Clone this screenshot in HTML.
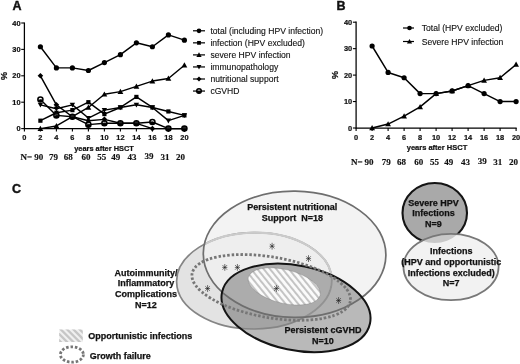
<!DOCTYPE html>
<html><head><meta charset="utf-8"><title>Figure</title>
<style>html,body{margin:0;padding:0;background:#fff}svg{display:block;will-change:transform;opacity:0.999}</style></head>
<body>
<svg width="520" height="364" viewBox="0 0 520 364">
<style>
text{font-family:"Liberation Sans", sans-serif;fill:#111}
.tk{font-size:7.4px;font-weight:bold;stroke:#111;stroke-width:0.22px}
.lg{font-size:8.6px;stroke:#111;stroke-width:0.12px}
.vl{font-size:9px;font-weight:bold;stroke:#111;stroke-width:0.25px}
.n{font-family:"Liberation Serif", serif;font-size:9px;font-weight:bold;stroke:#111;stroke-width:0.15px}
.pl{font-size:12.5px;font-weight:bold;stroke:#111;stroke-width:0.4px}
</style>
<rect width="520" height="364" fill="#fff"/>
<text x="12.6" y="9.7" class="pl">A</text>
<text x="336.5" y="9.6" class="pl">B</text>
<text x="11.9" y="192.6" class="pl">C</text>
<path d="M24.4 22.40 V128.6 H185.00" fill="none" stroke="#000" stroke-width="1.25"/>
<line x1="21.20" x2="24.4" y1="128.60" y2="128.60" stroke="#000" stroke-width="1.1"/>
<text x="20.50" y="131.20" text-anchor="end" class="tk">0</text>
<line x1="21.20" x2="24.4" y1="102.20" y2="102.20" stroke="#000" stroke-width="1.1"/>
<text x="20.50" y="104.80" text-anchor="end" class="tk">10</text>
<line x1="21.20" x2="24.4" y1="75.80" y2="75.80" stroke="#000" stroke-width="1.1"/>
<text x="20.50" y="78.40" text-anchor="end" class="tk">20</text>
<line x1="21.20" x2="24.4" y1="49.40" y2="49.40" stroke="#000" stroke-width="1.1"/>
<text x="20.50" y="52.00" text-anchor="end" class="tk">30</text>
<line x1="21.20" x2="24.4" y1="23.00" y2="23.00" stroke="#000" stroke-width="1.1"/>
<text x="20.50" y="25.60" text-anchor="end" class="tk">40</text>
<line x1="24.40" x2="24.40" y1="128.6" y2="131.60" stroke="#000" stroke-width="1.1"/>
<text x="24.40" y="140.10" text-anchor="middle" class="tk">0</text>
<line x1="40.40" x2="40.40" y1="128.6" y2="131.60" stroke="#000" stroke-width="1.1"/>
<text x="40.40" y="140.10" text-anchor="middle" class="tk">2</text>
<line x1="56.40" x2="56.40" y1="128.6" y2="131.60" stroke="#000" stroke-width="1.1"/>
<text x="56.40" y="140.10" text-anchor="middle" class="tk">4</text>
<line x1="72.40" x2="72.40" y1="128.6" y2="131.60" stroke="#000" stroke-width="1.1"/>
<text x="72.40" y="140.10" text-anchor="middle" class="tk">6</text>
<line x1="88.40" x2="88.40" y1="128.6" y2="131.60" stroke="#000" stroke-width="1.1"/>
<text x="88.40" y="140.10" text-anchor="middle" class="tk">8</text>
<line x1="104.40" x2="104.40" y1="128.6" y2="131.60" stroke="#000" stroke-width="1.1"/>
<text x="104.40" y="140.10" text-anchor="middle" class="tk">10</text>
<line x1="120.40" x2="120.40" y1="128.6" y2="131.60" stroke="#000" stroke-width="1.1"/>
<text x="120.40" y="140.10" text-anchor="middle" class="tk">12</text>
<line x1="136.40" x2="136.40" y1="128.6" y2="131.60" stroke="#000" stroke-width="1.1"/>
<text x="136.40" y="140.10" text-anchor="middle" class="tk">14</text>
<line x1="152.40" x2="152.40" y1="128.6" y2="131.60" stroke="#000" stroke-width="1.1"/>
<text x="152.40" y="140.10" text-anchor="middle" class="tk">16</text>
<line x1="168.40" x2="168.40" y1="128.6" y2="131.60" stroke="#000" stroke-width="1.1"/>
<text x="168.40" y="140.10" text-anchor="middle" class="tk">18</text>
<line x1="184.40" x2="184.40" y1="128.6" y2="131.60" stroke="#000" stroke-width="1.1"/>
<text x="184.40" y="140.10" text-anchor="middle" class="tk">20</text>
<polyline points="40.40,46.76 56.40,67.88 72.40,67.88 88.40,70.52 104.40,62.60 120.40,54.68 136.40,42.80 152.40,46.76 168.40,34.88 184.40,40.16" fill="none" stroke="#000" stroke-width="1.45" stroke-linejoin="round"/>
<circle cx="40.40" cy="46.76" r="2.6" fill="#000"/>
<circle cx="56.40" cy="67.88" r="2.6" fill="#000"/>
<circle cx="72.40" cy="67.88" r="2.6" fill="#000"/>
<circle cx="88.40" cy="70.52" r="2.6" fill="#000"/>
<circle cx="104.40" cy="62.60" r="2.6" fill="#000"/>
<circle cx="120.40" cy="54.68" r="2.6" fill="#000"/>
<circle cx="136.40" cy="42.80" r="2.6" fill="#000"/>
<circle cx="152.40" cy="46.76" r="2.6" fill="#000"/>
<circle cx="168.40" cy="34.88" r="2.6" fill="#000"/>
<circle cx="184.40" cy="40.16" r="2.6" fill="#000"/>
<polyline points="40.40,120.68 56.40,112.76 72.40,110.12 88.40,102.20 104.40,114.08 120.40,107.48 136.40,96.92 152.40,107.48 168.40,111.44 184.40,115.40" fill="none" stroke="#000" stroke-width="1.45" stroke-linejoin="round"/>
<rect x="38.30" y="118.58" width="4.2" height="4.2" fill="#000"/>
<rect x="54.30" y="110.66" width="4.2" height="4.2" fill="#000"/>
<rect x="70.30" y="108.02" width="4.2" height="4.2" fill="#000"/>
<rect x="86.30" y="100.10" width="4.2" height="4.2" fill="#000"/>
<rect x="102.30" y="111.98" width="4.2" height="4.2" fill="#000"/>
<rect x="118.30" y="105.38" width="4.2" height="4.2" fill="#000"/>
<rect x="134.30" y="94.82" width="4.2" height="4.2" fill="#000"/>
<rect x="150.30" y="105.38" width="4.2" height="4.2" fill="#000"/>
<rect x="166.30" y="109.34" width="4.2" height="4.2" fill="#000"/>
<rect x="182.30" y="113.30" width="4.2" height="4.2" fill="#000"/>
<polyline points="40.40,128.60 56.40,125.96 72.40,116.72 88.40,107.48 104.40,94.28 120.40,91.64 136.40,86.36 152.40,81.08 168.40,78.44 184.40,65.24" fill="none" stroke="#000" stroke-width="1.45" stroke-linejoin="round"/>
<path d="M40.40 125.70 L43.30 130.92 L37.50 130.92Z" fill="#000"/>
<path d="M56.40 123.06 L59.30 128.28 L53.50 128.28Z" fill="#000"/>
<path d="M72.40 113.82 L75.30 119.04 L69.50 119.04Z" fill="#000"/>
<path d="M88.40 104.58 L91.30 109.80 L85.50 109.80Z" fill="#000"/>
<path d="M104.40 91.38 L107.30 96.60 L101.50 96.60Z" fill="#000"/>
<path d="M120.40 88.74 L123.30 93.96 L117.50 93.96Z" fill="#000"/>
<path d="M136.40 83.46 L139.30 88.68 L133.50 88.68Z" fill="#000"/>
<path d="M152.40 78.18 L155.30 83.40 L149.50 83.40Z" fill="#000"/>
<path d="M168.40 75.54 L171.30 80.76 L165.50 80.76Z" fill="#000"/>
<path d="M184.40 62.34 L187.30 67.56 L181.50 67.56Z" fill="#000"/>
<polyline points="40.40,104.84 56.40,108.80 72.40,104.84 88.40,118.04 104.40,110.12 120.40,107.48 136.40,104.84 152.40,107.48 168.40,120.68 184.40,115.40" fill="none" stroke="#000" stroke-width="1.45" stroke-linejoin="round"/>
<path d="M40.40 107.54 L43.10 102.68 L37.70 102.68Z" fill="#000"/>
<path d="M56.40 111.50 L59.10 106.64 L53.70 106.64Z" fill="#000"/>
<path d="M72.40 107.54 L75.10 102.68 L69.70 102.68Z" fill="#000"/>
<path d="M88.40 120.74 L91.10 115.88 L85.70 115.88Z" fill="#000"/>
<path d="M104.40 112.82 L107.10 107.96 L101.70 107.96Z" fill="#000"/>
<path d="M120.40 110.18 L123.10 105.32 L117.70 105.32Z" fill="#000"/>
<path d="M136.40 107.54 L139.10 102.68 L133.70 102.68Z" fill="#000"/>
<path d="M152.40 110.18 L155.10 105.32 L149.70 105.32Z" fill="#000"/>
<path d="M168.40 123.38 L171.10 118.52 L165.70 118.52Z" fill="#000"/>
<path d="M184.40 118.10 L187.10 113.24 L181.70 113.24Z" fill="#000"/>
<polyline points="40.40,75.80 56.40,104.84 72.40,116.72 88.40,120.68 104.40,119.36 120.40,123.32 136.40,123.32 152.40,128.60 168.40,128.60 184.40,128.60" fill="none" stroke="#000" stroke-width="1.45" stroke-linejoin="round"/>
<path d="M40.40 73.00 L43.20 75.80 L40.40 78.60 L37.60 75.80Z" fill="#000"/>
<path d="M56.40 102.04 L59.20 104.84 L56.40 107.64 L53.60 104.84Z" fill="#000"/>
<path d="M72.40 113.92 L75.20 116.72 L72.40 119.52 L69.60 116.72Z" fill="#000"/>
<path d="M88.40 117.88 L91.20 120.68 L88.40 123.48 L85.60 120.68Z" fill="#000"/>
<path d="M104.40 116.56 L107.20 119.36 L104.40 122.16 L101.60 119.36Z" fill="#000"/>
<path d="M120.40 120.52 L123.20 123.32 L120.40 126.12 L117.60 123.32Z" fill="#000"/>
<path d="M136.40 120.52 L139.20 123.32 L136.40 126.12 L133.60 123.32Z" fill="#000"/>
<path d="M152.40 125.80 L155.20 128.60 L152.40 131.40 L149.60 128.60Z" fill="#000"/>
<path d="M168.40 125.80 L171.20 128.60 L168.40 131.40 L165.60 128.60Z" fill="#000"/>
<path d="M184.40 125.80 L187.20 128.60 L184.40 131.40 L181.60 128.60Z" fill="#000"/>
<polyline points="40.40,99.56 56.40,115.40 72.40,116.72 88.40,124.64 104.40,123.32 120.40,123.32 136.40,123.32 152.40,122.00 168.40,128.60 184.40,128.60" fill="none" stroke="#000" stroke-width="1.45" stroke-linejoin="round"/>
<circle cx="40.40" cy="99.56" r="2.55" fill="rgba(255,255,255,0.15)" stroke="#000" stroke-width="1.5"/><path d="M37.85 99.56 A2.55 2.55 0 0 0 42.95 99.56Z" fill="#000"/>
<circle cx="56.40" cy="115.40" r="2.55" fill="rgba(255,255,255,0.15)" stroke="#000" stroke-width="1.5"/><path d="M53.85 115.40 A2.55 2.55 0 0 0 58.95 115.40Z" fill="#000"/>
<circle cx="72.40" cy="116.72" r="2.55" fill="rgba(255,255,255,0.15)" stroke="#000" stroke-width="1.5"/><path d="M69.85 116.72 A2.55 2.55 0 0 0 74.95 116.72Z" fill="#000"/>
<circle cx="88.40" cy="124.64" r="2.55" fill="rgba(255,255,255,0.15)" stroke="#000" stroke-width="1.5"/><path d="M85.85 124.64 A2.55 2.55 0 0 0 90.95 124.64Z" fill="#000"/>
<circle cx="104.40" cy="123.32" r="2.55" fill="rgba(255,255,255,0.15)" stroke="#000" stroke-width="1.5"/><path d="M101.85 123.32 A2.55 2.55 0 0 0 106.95 123.32Z" fill="#000"/>
<circle cx="120.40" cy="123.32" r="2.55" fill="rgba(255,255,255,0.15)" stroke="#000" stroke-width="1.5"/><path d="M117.85 123.32 A2.55 2.55 0 0 0 122.95 123.32Z" fill="#000"/>
<circle cx="136.40" cy="123.32" r="2.55" fill="rgba(255,255,255,0.15)" stroke="#000" stroke-width="1.5"/><path d="M133.85 123.32 A2.55 2.55 0 0 0 138.95 123.32Z" fill="#000"/>
<circle cx="152.40" cy="122.00" r="2.55" fill="rgba(255,255,255,0.15)" stroke="#000" stroke-width="1.5"/><path d="M149.85 122.00 A2.55 2.55 0 0 0 154.95 122.00Z" fill="#000"/>
<circle cx="168.40" cy="128.60" r="2.55" fill="rgba(255,255,255,0.15)" stroke="#000" stroke-width="1.5"/><path d="M165.85 128.60 A2.55 2.55 0 0 0 170.95 128.60Z" fill="#000"/>
<circle cx="184.40" cy="128.60" r="2.55" fill="rgba(255,255,255,0.15)" stroke="#000" stroke-width="1.5"/><path d="M181.85 128.60 A2.55 2.55 0 0 0 186.95 128.60Z" fill="#000"/>
<text transform="translate(6.8,76) rotate(-90)" text-anchor="middle" class="tk" style="font-size:9px">%</text>
<text x="104" y="151" text-anchor="middle" class="tk" style="font-size:7.4px">years after HSCT</text>
<line x1="193" x2="205" y1="30.8" y2="30.8" stroke="#000" stroke-width="1.2"/>
<circle cx="199.00" cy="30.80" r="2.3400000000000003" fill="#000"/>
<text x="210.4" y="33.8" class="lg">total (including HPV infection)</text>
<line x1="193" x2="205" y1="42.85" y2="42.85" stroke="#000" stroke-width="1.2"/>
<rect x="197.11" y="40.96" width="3.7800000000000002" height="3.7800000000000002" fill="#000"/>
<text x="210.4" y="45.85" class="lg">infection (HPV excluded)</text>
<line x1="193" x2="205" y1="54.900000000000006" y2="54.900000000000006" stroke="#000" stroke-width="1.2"/>
<path d="M199.00 52.29 L201.61 56.99 L196.39 56.99Z" fill="#000"/>
<text x="210.4" y="57.900000000000006" class="lg">severe HPV infection</text>
<line x1="193" x2="205" y1="66.95" y2="66.95" stroke="#000" stroke-width="1.2"/>
<path d="M199.00 69.38 L201.43 65.01 L196.57 65.01Z" fill="#000"/>
<text x="210.4" y="69.95" class="lg">immunopathology</text>
<line x1="193" x2="205" y1="79.0" y2="79.0" stroke="#000" stroke-width="1.2"/>
<path d="M199.00 76.48 L201.52 79.00 L199.00 81.52 L196.48 79.00Z" fill="#000"/>
<text x="210.4" y="82.0" class="lg">nutritional support</text>
<line x1="193" x2="205" y1="91.05" y2="91.05" stroke="#000" stroke-width="1.2"/>
<circle cx="199.00" cy="91.05" r="2.295" fill="rgba(255,255,255,0.15)" stroke="#000" stroke-width="1.5"/><path d="M196.71 91.05 A2.295 2.295 0 0 0 201.29 91.05Z" fill="#000"/>
<text x="210.4" y="94.05" class="lg">cGVHD</text>
<text x="20.5" y="160.3" class="n">N=</text>
<text x="38.75" y="160.3" text-anchor="middle" class="n">90</text>
<text x="53.5" y="160.3" text-anchor="middle" class="n">79</text>
<text x="68.3" y="160.3" text-anchor="middle" class="n">68</text>
<text x="86" y="160.3" text-anchor="middle" class="n">60</text>
<text x="101.8" y="160.3" text-anchor="middle" class="n">55</text>
<text x="115.8" y="160.3" text-anchor="middle" class="n">49</text>
<text x="132" y="160.3" text-anchor="middle" class="n">43</text>
<text x="148.9" y="159.0" text-anchor="middle" class="n">39</text>
<text x="165" y="160.3" text-anchor="middle" class="n">31</text>
<text x="180.6" y="160.3" text-anchor="middle" class="n">20</text>
<path d="M356.1 21.60 V128.0 H516.70" fill="none" stroke="#000" stroke-width="1.25"/>
<line x1="352.90" x2="356.1" y1="128.00" y2="128.00" stroke="#000" stroke-width="1.1"/>
<text x="352.20" y="130.60" text-anchor="end" class="tk">0</text>
<line x1="352.90" x2="356.1" y1="101.55" y2="101.55" stroke="#000" stroke-width="1.1"/>
<text x="352.20" y="104.15" text-anchor="end" class="tk">10</text>
<line x1="352.90" x2="356.1" y1="75.10" y2="75.10" stroke="#000" stroke-width="1.1"/>
<text x="352.20" y="77.70" text-anchor="end" class="tk">20</text>
<line x1="352.90" x2="356.1" y1="48.65" y2="48.65" stroke="#000" stroke-width="1.1"/>
<text x="352.20" y="51.25" text-anchor="end" class="tk">30</text>
<line x1="352.90" x2="356.1" y1="22.20" y2="22.20" stroke="#000" stroke-width="1.1"/>
<text x="352.20" y="24.80" text-anchor="end" class="tk">40</text>
<line x1="356.10" x2="356.10" y1="128.0" y2="131.00" stroke="#000" stroke-width="1.1"/>
<text x="356.10" y="139.50" text-anchor="middle" class="tk">0</text>
<line x1="372.10" x2="372.10" y1="128.0" y2="131.00" stroke="#000" stroke-width="1.1"/>
<text x="372.10" y="139.50" text-anchor="middle" class="tk">2</text>
<line x1="388.10" x2="388.10" y1="128.0" y2="131.00" stroke="#000" stroke-width="1.1"/>
<text x="388.10" y="139.50" text-anchor="middle" class="tk">4</text>
<line x1="404.10" x2="404.10" y1="128.0" y2="131.00" stroke="#000" stroke-width="1.1"/>
<text x="404.10" y="139.50" text-anchor="middle" class="tk">6</text>
<line x1="420.10" x2="420.10" y1="128.0" y2="131.00" stroke="#000" stroke-width="1.1"/>
<text x="420.10" y="139.50" text-anchor="middle" class="tk">8</text>
<line x1="436.10" x2="436.10" y1="128.0" y2="131.00" stroke="#000" stroke-width="1.1"/>
<text x="436.10" y="139.50" text-anchor="middle" class="tk">10</text>
<line x1="452.10" x2="452.10" y1="128.0" y2="131.00" stroke="#000" stroke-width="1.1"/>
<text x="452.10" y="139.50" text-anchor="middle" class="tk">12</text>
<line x1="468.10" x2="468.10" y1="128.0" y2="131.00" stroke="#000" stroke-width="1.1"/>
<text x="468.10" y="139.50" text-anchor="middle" class="tk">14</text>
<line x1="484.10" x2="484.10" y1="128.0" y2="131.00" stroke="#000" stroke-width="1.1"/>
<text x="484.10" y="139.50" text-anchor="middle" class="tk">16</text>
<line x1="500.10" x2="500.10" y1="128.0" y2="131.00" stroke="#000" stroke-width="1.1"/>
<text x="500.10" y="139.50" text-anchor="middle" class="tk">18</text>
<line x1="516.10" x2="516.10" y1="128.0" y2="131.00" stroke="#000" stroke-width="1.1"/>
<text x="516.10" y="139.50" text-anchor="middle" class="tk">20</text>
<polyline points="372.10,46.00 388.10,72.45 404.10,77.75 420.10,93.62 436.10,93.62 452.10,90.97 468.10,85.68 484.10,93.62 500.10,101.55 516.10,101.55" fill="none" stroke="#000" stroke-width="1.45" stroke-linejoin="round"/>
<circle cx="372.10" cy="46.00" r="2.6" fill="#000"/>
<circle cx="388.10" cy="72.45" r="2.6" fill="#000"/>
<circle cx="404.10" cy="77.75" r="2.6" fill="#000"/>
<circle cx="420.10" cy="93.62" r="2.6" fill="#000"/>
<circle cx="436.10" cy="93.62" r="2.6" fill="#000"/>
<circle cx="452.10" cy="90.97" r="2.6" fill="#000"/>
<circle cx="468.10" cy="85.68" r="2.6" fill="#000"/>
<circle cx="484.10" cy="93.62" r="2.6" fill="#000"/>
<circle cx="500.10" cy="101.55" r="2.6" fill="#000"/>
<circle cx="516.10" cy="101.55" r="2.6" fill="#000"/>
<polyline points="372.10,128.00 388.10,124.03 404.10,116.10 420.10,106.84 436.10,93.62 452.10,90.97 468.10,85.68 484.10,80.39 500.10,77.75 516.10,64.52" fill="none" stroke="#000" stroke-width="1.45" stroke-linejoin="round"/>
<path d="M372.10 125.10 L375.00 130.32 L369.20 130.32Z" fill="#000"/>
<path d="M388.10 121.13 L391.00 126.35 L385.20 126.35Z" fill="#000"/>
<path d="M404.10 113.20 L407.00 118.42 L401.20 118.42Z" fill="#000"/>
<path d="M420.10 103.94 L423.00 109.16 L417.20 109.16Z" fill="#000"/>
<path d="M436.10 90.72 L439.00 95.94 L433.20 95.94Z" fill="#000"/>
<path d="M452.10 88.07 L455.00 93.29 L449.20 93.29Z" fill="#000"/>
<path d="M468.10 82.78 L471.00 88.00 L465.20 88.00Z" fill="#000"/>
<path d="M484.10 77.49 L487.00 82.71 L481.20 82.71Z" fill="#000"/>
<path d="M500.10 74.84 L503.00 80.06 L497.20 80.06Z" fill="#000"/>
<path d="M516.10 61.62 L519.00 66.84 L513.20 66.84Z" fill="#000"/>
<text transform="translate(338.4,75) rotate(-90)" text-anchor="middle" class="tk" style="font-size:9px">%</text>
<text x="437" y="150.3" text-anchor="middle" class="tk" style="font-size:7.5px">years after HSCT</text>
<line x1="403" x2="414" y1="28.0" y2="28.0" stroke="#000" stroke-width="1.2"/>
<circle cx="409.50" cy="28.00" r="2.3400000000000003" fill="#000"/>
<text x="421.7" y="31.0" class="lg">Total (HPV excluded)</text>
<line x1="403" x2="414" y1="41.5" y2="41.5" stroke="#000" stroke-width="1.2"/>
<path d="M409.50 38.89 L412.11 43.59 L406.89 43.59Z" fill="#000"/>
<text x="421.7" y="44.5" class="lg">Severe HPV infection</text>
<text x="351" y="165.3" class="n">N=</text>
<text x="369" y="165.3" text-anchor="middle" class="n">90</text>
<text x="386.2" y="165.3" text-anchor="middle" class="n">79</text>
<text x="401.5" y="165.3" text-anchor="middle" class="n">68</text>
<text x="418.8" y="165.3" text-anchor="middle" class="n">60</text>
<text x="434.4" y="165.3" text-anchor="middle" class="n">55</text>
<text x="448.8" y="165.3" text-anchor="middle" class="n">49</text>
<text x="465.4" y="165.3" text-anchor="middle" class="n">43</text>
<text x="482.3" y="164.0" text-anchor="middle" class="n">39</text>
<text x="497.7" y="165.3" text-anchor="middle" class="n">31</text>
<text x="513.5" y="165.3" text-anchor="middle" class="n">20</text>
<defs>
<pattern id="hatch" width="4.5" height="4.5" patternUnits="userSpaceOnUse" patternTransform="rotate(-45)">
<rect width="4.5" height="4.5" fill="#f0f0f0"/><rect width="2.1" height="4.5" fill="#c9c9c9"/></pattern>
<pattern id="hatch2" width="4.9" height="4.9" patternUnits="userSpaceOnUse" patternTransform="rotate(-53)">
<rect width="4.9" height="4.9" fill="#fbfbfb"/><rect width="2" height="4.9" fill="#c4c4c4"/></pattern>
<clipPath id="infclip"><ellipse cx="451" cy="267" rx="47.6" ry="33.2"/></clipPath>
</defs>
<clipPath id="bigclip"><ellipse cx="294.6" cy="254.3" rx="91.3" ry="63.1" transform="rotate(0.8 294.6 254.3)"/></clipPath><clipPath id="cgclip"><ellipse cx="296.0" cy="307.9" rx="75.6" ry="42.3" transform="rotate(11.9 296.0 307.9)"/></clipPath>
<ellipse cx="254.2" cy="280.8" rx="77.6" ry="48.2" transform="rotate(-0.7 254.2 280.8)" fill="#e3e3e3"/>
<ellipse cx="294.6" cy="254.3" rx="91.3" ry="63.1" transform="rotate(0.8 294.6 254.3)" fill="rgba(240,240,240,0.8)"/>
<ellipse cx="296.0" cy="307.9" rx="75.6" ry="42.3" transform="rotate(11.9 296.0 307.9)" fill="rgba(0,0,0,0.275)"/>
<ellipse cx="254.2" cy="280.8" rx="77.6" ry="48.2" transform="rotate(-0.7 254.2 280.8)" fill="none" stroke="#858585" stroke-width="1.7"/>
<g clip-path="url(#bigclip)"><ellipse cx="254.2" cy="280.8" rx="77.6" ry="48.2" transform="rotate(-0.7 254.2 280.8)" fill="none" stroke="#cbcbcb" stroke-width="2.1"/><g clip-path="url(#cgclip)"><ellipse cx="254.2" cy="280.8" rx="77.6" ry="48.2" transform="rotate(-0.7 254.2 280.8)" fill="none" stroke="#929292" stroke-width="2.1"/></g></g>
<ellipse cx="294.6" cy="254.3" rx="91.3" ry="63.1" transform="rotate(0.8 294.6 254.3)" fill="none" stroke="#6e6e6e" stroke-width="1.7"/>
<ellipse cx="296.0" cy="307.9" rx="75.6" ry="42.3" transform="rotate(11.9 296.0 307.9)" fill="none" stroke="#141414" stroke-width="2"/>
<ellipse cx="434.75" cy="213" rx="32.25" ry="30" fill="#a9a9a9" stroke="#141414" stroke-width="2.1"/>
<ellipse cx="451" cy="267" rx="47.6" ry="33.2" fill="#f2f2f2"/>
<ellipse cx="434.75" cy="213" rx="32.25" ry="30" fill="#c8c8c8" clip-path="url(#infclip)"/>
<ellipse cx="451" cy="267" rx="47.6" ry="33.2" fill="none" stroke="#787878" stroke-width="1.7"/>
<ellipse cx="284.2" cy="286.4" rx="37" ry="16.8" fill="url(#hatch2)" stroke="rgba(90,90,90,0.3)" stroke-width="0.8" transform="rotate(14 284.2 286.4)"/>
<ellipse cx="271.2" cy="287.4" rx="80.3" ry="30.3" fill="none" stroke="#767676" stroke-width="2.8" stroke-dasharray="2.5 1.9" transform="rotate(9.9 271.2 287.4)"/>
<path d="M269.55 246.20L274.65 246.20M269.82 243.92L274.38 248.48M272.10 242.80L272.10 249.60M274.38 243.92L269.82 248.48" stroke="#1a1a1a" stroke-width="0.6" fill="none"/>
<path d="M305.95 258.60L311.05 258.60M306.22 256.32L310.78 260.88M308.50 255.20L308.50 262.00M310.78 256.32L306.22 260.88" stroke="#1a1a1a" stroke-width="0.6" fill="none"/>
<path d="M222.25 267.40L227.35 267.40M222.52 265.12L227.08 269.68M224.80 264.00L224.80 270.80M227.08 265.12L222.52 269.68" stroke="#1a1a1a" stroke-width="0.6" fill="none"/>
<path d="M234.85 267.40L239.95 267.40M235.12 265.12L239.68 269.68M237.40 264.00L237.40 270.80M239.68 265.12L235.12 269.68" stroke="#1a1a1a" stroke-width="0.6" fill="none"/>
<path d="M205.05 288.50L210.15 288.50M205.32 286.22L209.88 290.78M207.60 285.10L207.60 291.90M209.88 286.22L205.32 290.78" stroke="#1a1a1a" stroke-width="0.6" fill="none"/>
<path d="M273.85 288.50L278.95 288.50M274.12 286.22L278.68 290.78M276.40 285.10L276.40 291.90M278.68 286.22L274.12 290.78" stroke="#1a1a1a" stroke-width="0.6" fill="none"/>
<path d="M336.05 300.50L341.15 300.50M336.32 298.22L340.88 302.78M338.60 297.10L338.60 303.90M340.88 298.22L336.32 302.78" stroke="#1a1a1a" stroke-width="0.6" fill="none"/>
<text x="292.3" y="210.2" text-anchor="middle" class="vl" xml:space="preserve">Persistent nutritional</text>
<text x="292.3" y="220.5" text-anchor="middle" class="vl" xml:space="preserve">Support  N=18</text>
<text x="146" y="275.7" text-anchor="middle" class="vl" xml:space="preserve">Autoimmunity/</text>
<text x="146" y="286.3" text-anchor="middle" class="vl" xml:space="preserve">Inflammatory</text>
<text x="146" y="296.9" text-anchor="middle" class="vl" xml:space="preserve">Complications</text>
<text x="146" y="307.5" text-anchor="middle" class="vl" xml:space="preserve">N=12</text>
<text x="433.5" y="206.0" text-anchor="middle" class="vl" xml:space="preserve">Severe HPV</text>
<text x="433.5" y="216.4" text-anchor="middle" class="vl" xml:space="preserve">Infections</text>
<text x="433.5" y="226.8" text-anchor="middle" class="vl" xml:space="preserve">N=9</text>
<text x="451.2" y="253.9" text-anchor="middle" class="vl" xml:space="preserve">Infections</text>
<text x="451.2" y="264.7" text-anchor="middle" class="vl" xml:space="preserve">(HPV and opportunistic</text>
<text x="451.2" y="275.5" text-anchor="middle" class="vl" xml:space="preserve">Infections excluded)</text>
<text x="451.2" y="286.3" text-anchor="middle" class="vl" xml:space="preserve">N=7</text>
<text x="323" y="333.3" text-anchor="middle" class="vl" xml:space="preserve">Persistent cGVHD</text>
<text x="323" y="344.2" text-anchor="middle" class="vl" xml:space="preserve">N=10</text>
<clipPath id="swclip"><rect x="59.2" y="329.6" width="23.6" height="12.5"/></clipPath>
<rect x="59.2" y="329.6" width="23.6" height="12.5" fill="#f0f0f0"/>
<g clip-path="url(#swclip)" stroke="#c6c6c6" stroke-width="2.3"><line x1="40.1" y1="327.6" x2="56.6" y2="344.1"/><line x1="46.4" y1="327.6" x2="62.9" y2="344.1"/><line x1="52.7" y1="327.6" x2="69.2" y2="344.1"/><line x1="59.0" y1="327.6" x2="75.5" y2="344.1"/><line x1="65.3" y1="327.6" x2="81.8" y2="344.1"/><line x1="71.6" y1="327.6" x2="88.1" y2="344.1"/><line x1="77.9" y1="327.6" x2="94.4" y2="344.1"/><line x1="84.2" y1="327.6" x2="100.7" y2="344.1"/></g>
<text x="88.3" y="339.2" class="vl">Opportunistic infections</text>
<ellipse cx="71.9" cy="354.5" rx="11.5" ry="7.7" fill="none" stroke="#767676" stroke-width="2.8" stroke-dasharray="2.5 1.9"/>
<text x="89.8" y="358.6" class="vl">Growth failure</text>
</svg>
</body></html>
